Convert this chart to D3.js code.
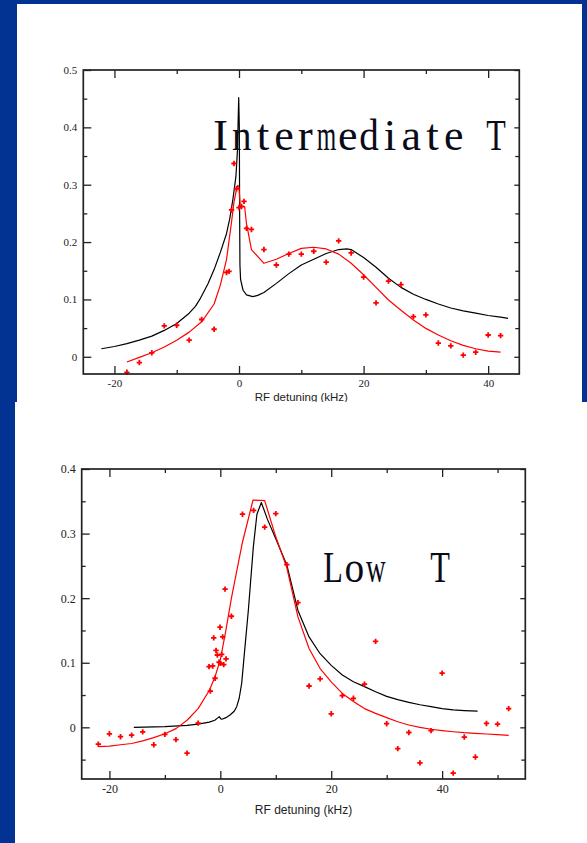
<!DOCTYPE html>
<html><head><meta charset="utf-8">
<script src="https://cdn.jsdelivr.net/npm/d3@7"></script>
<style>html,body{margin:0;padding:0;background:#023393;}svg{display:block}</style>
</head><body>
<svg id="c" width="587" height="843"></svg>
<script>
// ---------- DATA: Intermediate T ----------
const interTitle = "Intermediate T";
const interXTicks = [-20, 0, 20, 40];
const interXTickLabels = ["-20", "0", "20", "40"];
const interXMinor = [-10, 10, 30];
const interYTicks = [0, 0.1, 0.2, 0.3, 0.4, 0.5];
const interYTickLabels = ["0", "0.1", "0.2", "0.3", "0.4", "0.5"];
const interYMinor = [0.05, 0.15, 0.25, 0.35, 0.45];
const interPoints = [
  [-18,-0.027],[-16,-0.010],[-14,0.007],[-12,0.054],[-10,0.055],[-8,0.029],[-6,0.065],[-4,0.048],
  [-2,0.147],[-1.6,0.149],[-1.2,0.256],[-0.8,0.337],[-0.4,0.293],[0,0.26],[0.4,0.262],[0.8,0.271],
  [1.2,0.224],[2,0.222],[4,0.187],[6,0.160],[8,0.179],[10,0.179],[12,0.184],[14,0.165],[16,0.202],
  [18,0.181],[20,0.139],[22,0.094],[24,0.132],[26,0.126],[28,0.070],[30,0.073],[32,0.024],[34,0.019],
  [36,0.003],[38,0.008],[40,0.038],[42,0.037]
];
const interRedFit = [
  [-18,-0.009],[-16,-0.001],[-14,0.007],[-12,0.017],[-10,0.029],[-8,0.043],[-6,0.061],[-4,0.092],
  [-3,0.125],[-2,0.170],[-1.2,0.235],[-0.8,0.27],[-0.4,0.292],[-0.2,0.299],[0,0.295],[0.2,0.262],
  [0.6,0.262],[0.9,0.262],[1.2,0.232],[2,0.187],[4,0.163],[6,0.170],[8,0.180],[10,0.189],[12,0.191],
  [14,0.188],[16,0.179],[18,0.163],[20,0.143],[22,0.121],[24,0.099],[26,0.081],[28,0.064],[30,0.0495],
  [32,0.038],[34,0.028],[36,0.020],[38,0.014],[40,0.010],[42,0.008]
];
const interBlackFit = [
  [-22.1,0.014],[-20,0.018],[-18,0.023],[-16,0.029],[-14,0.036],[-12,0.046],[-10,0.058],[-8,0.076],
  [-7,0.088],[-6.3,0.100],[-5,0.127],[-4,0.152],[-3,0.182],[-2,0.215],[-1.5,0.24],[-1,0.273],
  [-0.5,0.314],[-0.25,0.36],[-0.05,0.452],[0.05,0.40],[0.1,0.25],[0.15,0.16],[0.25,0.135],[0.65,0.116],
  [1.2,0.108],[2.2,0.105],[3,0.107],[4,0.112],[6,0.128],[8,0.145],[10,0.160],[12,0.170],[14,0.180],
  [16,0.187],[17.3,0.188],[18,0.187],[20,0.173],[22,0.156],[24,0.137],[26,0.121],[28,0.109],[30,0.100],
  [32,0.092],[34,0.085],[36,0.080],[38,0.076],[40,0.072],[42,0.069],[43.2,0.067]
];

// ---------- DATA: Low T ----------
const lowTitle = "Low  T";
const lowXTicks = [-20, 0, 20, 40];
const lowXTickLabels = ["-20", "0", "20", "40"];
const lowXMinor = [-10, 10, 30, 50];
const lowYTicks = [0, 0.1, 0.2, 0.3, 0.4];
const lowYTickLabels = ["0", "0.1", "0.2", "0.3", "0.4"];
const lowYMinor = [-0.05, 0.05, 0.15, 0.25, 0.35];
const lowPoints = [
  [-22,-0.026],[-20,-0.010],[-18,-0.0145],[-16,-0.012],[-14,-0.007],[-12,-0.027],[-10,-0.011],[-8,-0.019],
  [-6,-0.040],[-4,0.0066],[-2.04,0.094],[-1.8,0.056],[-1.37,0.095],[-1.19,0.1385],[-0.95,0.076],
  [-0.77,0.119],[-0.54,0.112],[-0.23,0.101],[-0.05,0.155],[0,0.099],[0.25,0.113],[0.43,0.140],
  [0.61,0.097],[0.85,0.214],[1.03,0.106],[2,0.172],[4,0.330],[6,0.336],[8,0.310],[10,0.331],[12,0.252],
  [14,0.193],[16,0.064],[18,0.075],[20,0.021],[22,0.049],[24,0.045],[26,0.067],[28,0.133],[30,0.0056],
  [32,-0.033],[34,-0.008],[36,-0.055],[38,-0.005],[40,0.084],[42,-0.071],[44,-0.015],[46,-0.046],
  [48,0.006],[50,0.005],[52,0.029]
];
const lowRedFit = [
  [-22,-0.030],[-20,-0.029],[-18,-0.027],[-16,-0.025],[-14,-0.021],[-12,-0.016],[-10,-0.010],[-8,-0.002],
  [-6,0.011],[-4,0.029],[-2,0.057],[-1,0.077],[0,0.105],[1,0.150],[2,0.200],[4,0.287],[5.9,0.352],
  [8,0.351],[10,0.295],[12,0.247],[14,0.171],[16,0.122],[18,0.091],[20,0.0705],[22,0.0525],[24,0.040],
  [26,0.029],[28,0.0216],[30,0.015],[32,0.0087],[34,0.0036],[36,0.0],[38,-0.003],[40,-0.005],
  [42,-0.0068],[44,-0.0083],[46,-0.0093],[48,-0.0103],[50,-0.0114],[52,-0.0124]
];
const lowBlackFit = [
  [-15.6,0.0],[-10,0.001],[-6,0.003],[-4,0.005],[-2,0.008],[-1,0.011],[-0.4,0.015],[-0.2,0.0165],
  [0.1,0.013],[0.3,0.0125],[1,0.015],[1.75,0.019],[2.5,0.025],[2.95,0.032],[3.4,0.045],[3.85,0.068],
  [4.45,0.125],[5.05,0.181],[5.95,0.279],[6.6,0.33],[7.4,0.348],[8.5,0.322],[10,0.292],[12,0.251],
  [14,0.181],[16,0.140],[18,0.114],[20,0.096],[22,0.081],[24,0.0705],[26,0.063],[28,0.055],[30,0.048],
  [32,0.043],[34,0.0386],[36,0.035],[38,0.032],[40,0.029],[42,0.027],[44,0.026],[46.4,0.025]
];

const axisTitle = "RF detuning (kHz)";

// ---------- DRAW ----------
const svg = d3.select("#c");
svg.append("rect").attr("width", 587).attr("height", 843).attr("fill", "#023393");

function drawPanel(cfg) {
  const g = svg.append("g");
  const x = d3.scaleLinear().domain(cfg.xDomain).range([cfg.left, cfg.right]);
  const y = d3.scaleLinear().domain(cfg.yDomain).range([cfg.bottom, cfg.top]);
  const axColor = "#222";

  // fits
  const line = d3.line().x(d => x(d[0])).y(d => y(d[1]));
  g.append("path").datum(cfg.black).attr("d", line).attr("fill", "none")
    .attr("stroke", "#000").attr("stroke-width", 1.2).attr("stroke-linejoin", "round");
  g.append("path").datum(cfg.red).attr("d", line).attr("fill", "none")
    .attr("stroke", "#ff0000").attr("stroke-width", 1.2).attr("stroke-linejoin", "round");
  g.append("g").selectAll("path").data(cfg.points).join("path")
    .attr("transform", d => `translate(${x(d[0])},${y(d[1])})`)
    .attr("d", d3.symbol(d3.symbolCross, 16)())
    .attr("fill", "#ff0000");

  // axes
  const styleAxis = sel => {
    sel.select(".domain").remove();
    sel.selectAll(".tick line").attr("stroke", axColor).attr("stroke-width", 1.3);
    sel.selectAll(".tick text").attr("fill", "#222")
      .attr("font-family", "'Liberation Serif', 'Times New Roman', serif")
      .attr("font-size", cfg.tickFont);
  };
  const fmt = (labels, vals) => d => labels[vals.indexOf(d)];
  g.append("g").attr("transform", `translate(0,${cfg.bottom})`)
    .call(d3.axisBottom(x).tickValues(cfg.xTicks).tickSize(-8).tickPadding(5)
      .tickFormat(fmt(cfg.xLabels, cfg.xTicks))).call(styleAxis);
  g.append("g").attr("transform", `translate(0,${cfg.bottom})`)
    .call(d3.axisBottom(x).tickValues(cfg.xMinor).tickSize(-4).tickFormat("")).call(styleAxis);
  g.append("g").attr("transform", `translate(0,${cfg.top})`)
    .call(d3.axisTop(x).tickValues(cfg.xTicks).tickSize(-8).tickFormat("")).call(styleAxis);
  g.append("g").attr("transform", `translate(0,${cfg.top})`)
    .call(d3.axisTop(x).tickValues(cfg.xMinor).tickSize(-4).tickFormat("")).call(styleAxis);
  g.append("g").attr("transform", `translate(${cfg.left},0)`)
    .call(d3.axisLeft(y).tickValues(cfg.yTicks).tickSize(-8).tickPadding(6)
      .tickFormat(fmt(cfg.yLabels, cfg.yTicks))).call(styleAxis);
  g.append("g").attr("transform", `translate(${cfg.left},0)`)
    .call(d3.axisLeft(y).tickValues(cfg.yMinor).tickSize(-4).tickFormat("")).call(styleAxis);
  g.append("g").attr("transform", `translate(${cfg.right},0)`)
    .call(d3.axisRight(y).tickValues(cfg.yTicks).tickSize(-5).tickFormat("")).call(styleAxis);
  g.append("g").attr("transform", `translate(${cfg.right},0)`)
    .call(d3.axisRight(y).tickValues(cfg.yMinor).tickSize(-4).tickFormat("")).call(styleAxis);

  // frame
  g.append("rect").attr("x", cfg.left).attr("y", cfg.top)
    .attr("width", cfg.right - cfg.left).attr("height", cfg.bottom - cfg.top)
    .attr("fill", "none").attr("stroke", axColor).attr("stroke-width", 1.7);

  // axis title
  g.append("text").attr("x", (cfg.left + cfg.right) / 2).attr("y", cfg.titleY)
    .attr("text-anchor", "middle").attr("fill", "#222")
    .attr("font-family", "'Liberation Sans', Arial, sans-serif").attr("font-size", cfg.axisTitleFont)
    .text(axisTitle);

  // big label, monospaced cells; wide glyphs squeezed into their cell
  const chars = cfg.label.split("");
  const maxW = cfg.labelAdv * 0.92;
  g.append("g").selectAll("text").data(chars).join("text")
    .attr("text-anchor", "middle")
    .attr("font-family", "'Liberation Serif', 'Times New Roman', serif")
    .attr("font-size", 45).attr("fill", "#0b0b18")
    .text(d => d)
    .attr("transform", function(d, i) {
      const w = this.getComputedTextLength() || 1;
      const s = Math.min(1, maxW / w);
      return `translate(${cfg.labelX + i * cfg.labelAdv},${cfg.labelY}) scale(${s},1)`;
    });
}

// top panel
svg.append("rect").attr("x", 17).attr("y", 4).attr("width", 565).attr("height", 398).attr("fill", "#fff");
drawPanel({
  xDomain: [-25, 45], yDomain: [-0.03, 0.5],
  left: 83.3, right: 519.3, top: 70, bottom: 374,
  xTicks: interXTicks, xLabels: interXTickLabels, xMinor: interXMinor,
  yTicks: interYTicks, yLabels: interYTickLabels, yMinor: interYMinor,
  points: interPoints, red: interRedFit, black: interBlackFit,
  tickFont: 11, axisTitleFont: 11.5, titleY: 401,
  label: interTitle, labelX: 220.5, labelAdv: 21.2, labelY: 150
});

// bottom panel
svg.append("rect").attr("x", 15).attr("y", 402).attr("width", 572).attr("height", 441).attr("fill", "#fff");
drawPanel({
  xDomain: [-25, 55], yDomain: [-0.08, 0.4],
  left: 81.7, right: 525.3, top: 469, bottom: 779,
  xTicks: lowXTicks, xLabels: lowXTickLabels, xMinor: lowXMinor,
  yTicks: lowYTicks, yLabels: lowYTickLabels, yMinor: lowYMinor,
  points: lowPoints, red: lowRedFit, black: lowBlackFit,
  tickFont: 12, axisTitleFont: 12, titleY: 814,
  label: lowTitle, labelX: 333, labelAdv: 21.4, labelY: 581.7
});
</script>
</body></html>
